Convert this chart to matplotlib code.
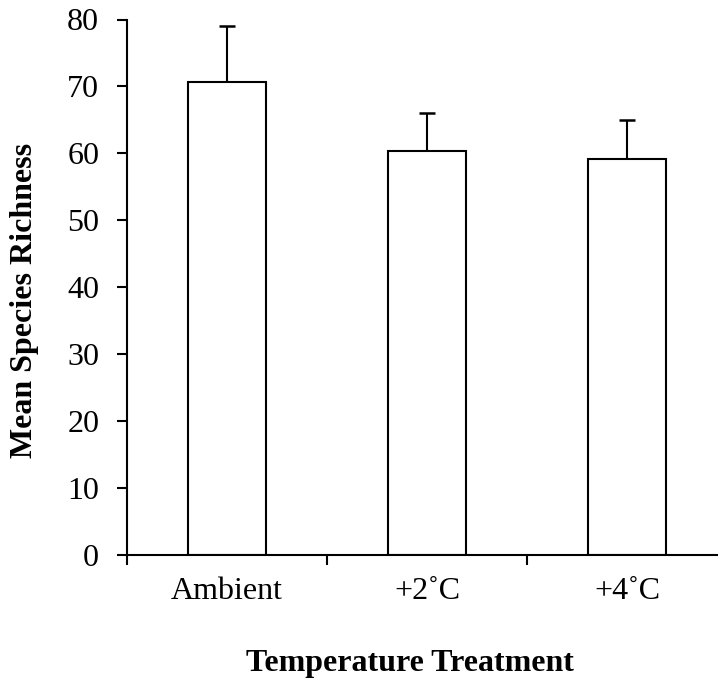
import matplotlib
matplotlib.use("Agg")
from matplotlib import pyplot as plt
import numpy as np

categories = ["Ambient", "+2\u02daC", "+4\u02daC"]
means = [70.7, 60.3, 59.2]
errors = [8.3, 5.8, 5.8]

W, H = 718, 682
DPI = 100

plt.rcParams["font.family"] = ["Liberation Serif", "DejaVu Serif"]

fig = plt.figure(figsize=(W / DPI, H / DPI), dpi=DPI)
ax = fig.add_axes([127 / W, (H - 555) / H, 600 / W, (555 - 19.5) / H])

x = np.arange(len(categories))
ax.bar(x, means, width=0.39, color="white", edgecolor="black", linewidth=1.5, zorder=2)
ax.errorbar(x, means, yerr=[np.zeros(len(errors)), errors], fmt="none",
            ecolor="black", elinewidth=1.5, capsize=6, capthick=1.8, zorder=1)

ax.set_xlim(-0.5, 2.5)
ax.set_ylim(0, 80)
ax.set_yticks(np.arange(0, 81, 10))

ax.set_xticks(np.arange(-0.5, 2.6, 1.0))
ax.set_xticklabels([])
ax.set_xticks(x, minor=True)
ax.set_xticklabels(categories, minor=True)
ax.tick_params(axis="x", which="major", direction="out", length=7, width=1.5)
ax.tick_params(axis="x", which="minor", length=0, pad=16, labelsize=23)
ax.tick_params(axis="y", direction="out", length=7, width=1.5, pad=13, labelsize=23)

for side in ["top", "right"]:
    ax.spines[side].set_visible(False)
for side in ["left", "bottom"]:
    ax.spines[side].set_linewidth(1.5)

fig.text(25 / W, 1 - 300 / H, "Mean Species Richness", rotation=90, ha="center",
         va="center", fontsize=23, fontweight="bold")
fig.text(410 / W, 1 - 663 / H, "Temperature Treatment", ha="center", va="center",
         fontsize=23, fontweight="bold")

fig.savefig("out.png", dpi=DPI)
